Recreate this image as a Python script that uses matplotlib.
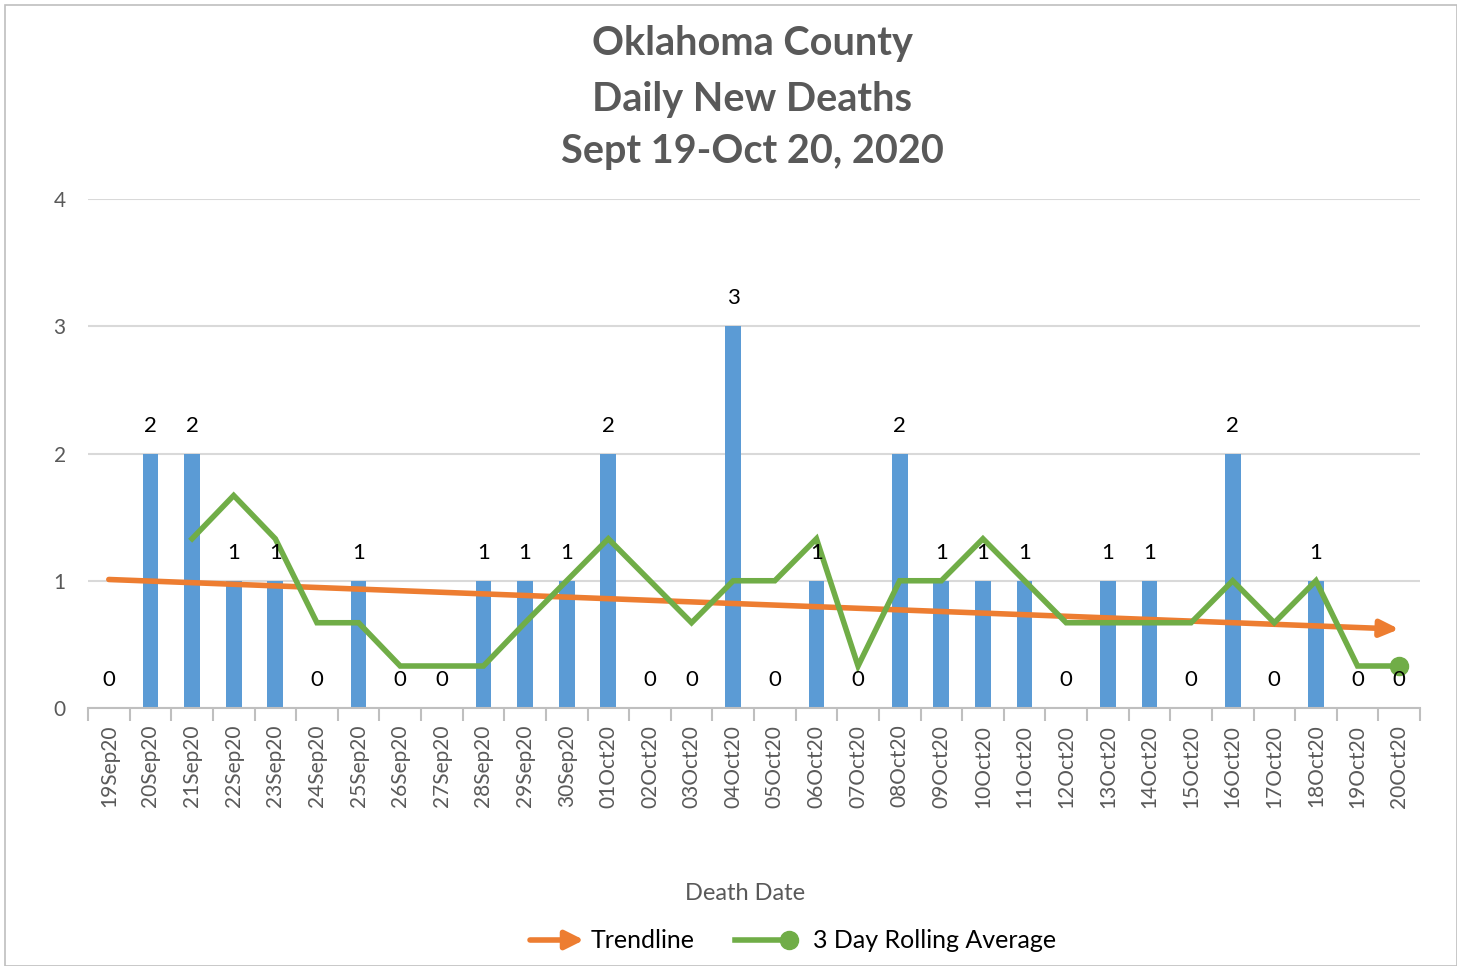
import matplotlib
matplotlib.use("Agg")
import matplotlib.pyplot as plt
from matplotlib.patches import Rectangle, FancyArrowPatch
from matplotlib.lines import Line2D

plt.rcParams['font.family'] = ['Lato', 'DejaVu Sans']

dates = ["19Sep20", "20Sep20", "21Sep20", "22Sep20", "23Sep20", "24Sep20", "25Sep20",
         "26Sep20", "27Sep20", "28Sep20", "29Sep20", "30Sep20", "01Oct20", "02Oct20",
         "03Oct20", "04Oct20", "05Oct20", "06Oct20", "07Oct20", "08Oct20", "09Oct20",
         "10Oct20", "11Oct20", "12Oct20", "13Oct20", "14Oct20", "15Oct20", "16Oct20",
         "17Oct20", "18Oct20", "19Oct20", "20Oct20"]
deaths = [0, 2, 2, 1, 1, 0, 1, 0, 0, 1, 1, 1, 2, 0, 0, 3, 0, 1, 0, 2, 1, 1, 1, 0,
          1, 1, 0, 2, 0, 1, 0, 0]
# 3-day rolling average, starting at 21Sep20
rolling_avg = [1.33, 1.67, 1.33, 0.67, 0.67, 0.33, 0.33, 0.33, 0.67, 1.0, 1.33, 1.0,
               0.67, 1.0, 1.0, 1.33, 0.33, 1.0, 1.0, 1.33, 1.0, 0.67, 0.67, 0.67,
               0.67, 1.0, 0.67, 1.0, 0.33, 0.33]
trend_start = 1.01
trend_end = 0.62

BLUE = "#5B9BD5"
ORANGE = "#ED7D31"
GREEN = "#70AD47"
GRID = "#D9D9D9"
TXT = "#595959"

W, H = 1457, 966
fig = plt.figure(figsize=(14.57, 9.66), dpi=100)
fig.patches.append(Rectangle((5 / W, 0), 1 - 5 / W, 1 - 5 / H, transform=fig.transFigure,
                             fill=False, edgecolor="#BFBFBF", lw=1.2))
ax = fig.add_axes([88 / W, 1 - 708 / H, (1420 - 88) / W, (708 - 199) / H])

n = len(dates)
x = list(range(n))
ax.bar(x, deaths, width=0.38, color=BLUE, zorder=2)

for i, v in enumerate(deaths):
    ax.annotate(str(v), (i, v), xytext=(0, 28), textcoords='offset pixels',
                ha='center', va='center', fontsize=16, color="#000000", zorder=5)

rx = x[2:]
ax.plot(rx, rolling_avg, color=GREEN, lw=4, zorder=4, solid_joinstyle='miter')
ax.plot([rx[-1]], [rolling_avg[-1]], 'o', color=GREEN, ms=13, zorder=4)

ax.annotate("", xy=(x[-1], trend_end), xytext=(x[0], trend_start),
            arrowprops=dict(arrowstyle='-|>,head_length=1.1,head_width=0.5', color=ORANGE,
                            lw=4, shrinkA=0, shrinkB=0), zorder=3)

ax.set_xlim(-0.5, n - 0.5)
ax.set_ylim(0, 4)
ax.set_yticks([0, 1, 2, 3, 4])
ax.yaxis.grid(True, color=GRID, lw=1.5, zorder=0)
ax.set_axisbelow(True)
for s in ['top', 'right', 'left']:
    ax.spines[s].set_visible(False)
ax.spines['bottom'].set_color("#BFBFBF")
ax.spines['bottom'].set_linewidth(1.5)
ax.tick_params(axis='y', length=0, pad=16, labelsize=15, labelcolor=TXT)

ax.set_xticks(x)
ax.set_xticklabels(dates, rotation=90, fontsize=15, color=TXT)
ax.set_xticks([i - 0.5 for i in range(n + 1)], minor=True)
ax.tick_params(axis='x', which='major', length=0, pad=12)
ax.tick_params(axis='x', which='minor', length=9, width=1.5, color="#BFBFBF")

for txt, yy in [("Oklahoma County", 44), ("Daily New Deaths", 99),
                ("Sept 19-Oct 20, 2020", 152)]:
    fig.text(752 / W, 1 - yy / H, txt, ha='center', va='center',
             fontsize=28.5, fontweight='bold', color=TXT)
fig.text(745 / W, 1 - 893 / H, "Death Date", ha='center', va='center',
         fontsize=17, color=TXT)

# manual legend
ly = 1 - 940 / H
fig.patches.append(FancyArrowPatch((530 / W, ly), (584 / W, ly), transform=fig.transFigure,
                                   arrowstyle='-|>,head_length=1.1,head_width=0.55',
                                   color=ORANGE, lw=4, shrinkA=0, shrinkB=0,
                                   mutation_scale=10))
fig.text(591 / W, ly, "Trendline", ha='left', va='center', fontsize=18, color="#000000")
fig.lines.append(Line2D([735 / W, 789 / W], [ly, ly], transform=fig.transFigure,
                        color=GREEN, lw=4))
fig.lines.append(Line2D([789 / W], [ly], transform=fig.transFigure, color=GREEN,
                        marker='o', ms=13, lw=0))
fig.text(813 / W, ly, "3 Day Rolling Average", ha='left', va='center', fontsize=18,
         color="#000000")

fig.savefig("out.png", dpi=100)
